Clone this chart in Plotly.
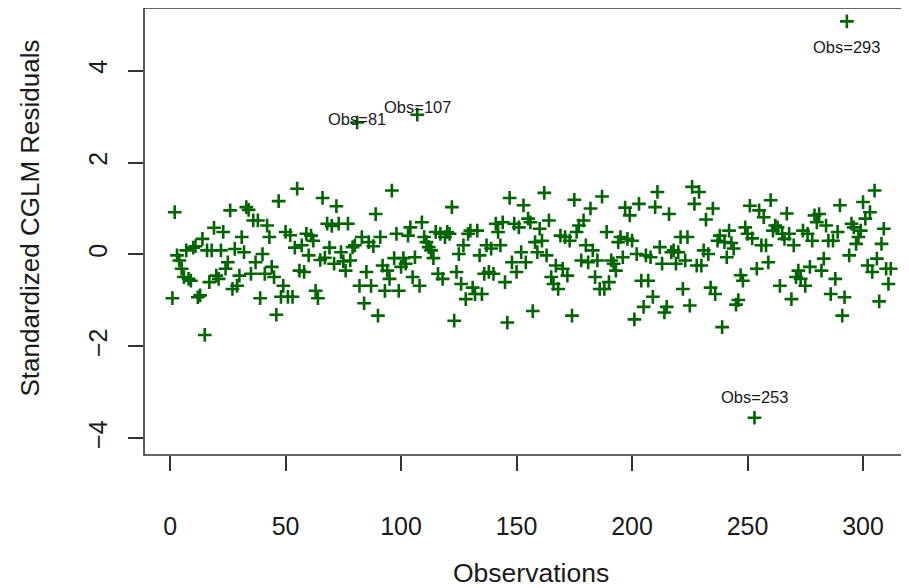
import plotly.graph_objects as go

# Standardized CGLM residuals, observations 1..312
residuals = [
    -0.95, 0.92, -0.02, -0.13, -0.31, -0.49, 0.09, -0.53, -0.57, 0.15,
    0.18, -0.93, -0.89, 0.34, -1.75, 0.09, -0.60, 0.09, 0.58, -0.46,
    -0.53, 0.09, 0.49, -0.31, -0.17, 0.96, -0.75, 0.12, -0.68, -0.46,
    0.38, 0.05, 1.03, 0.97, -0.42, 0.74, -0.17, 0.74, -0.95, 0.01,
    -0.42, 0.63, 0.38, -0.27, -0.49, -1.31, 1.16, -0.92, -0.68, 0.49,
    -0.92, 0.42, -0.92, 0.15, 1.43, -0.35, 0.20, -0.38, 0.45, -0.02,
    0.41, 0.30, -0.79, -0.95, -0.12, 1.23, -0.07, 0.67, 0.15, 0.62,
    -0.20, 1.05, 0.67, 0.05, -0.15, -0.35, 0.67, -0.13, 0.16, 0.20,
    2.87, -0.68, 0.38, -1.06, -0.38, 0.27, -0.68, 0.18, 0.88, -1.33,
    0.38, -0.24, -0.79, -0.35, -0.53, 1.39, -0.08, 0.45, -0.79, -0.27,
    -0.08, -0.20, 0.41, 0.59, -0.49, -0.06, 3.04, -0.68, 0.70, 0.38,
    0.27, 0.16, 0.09, -0.08, 0.49, -0.42, 0.45, -0.53, 0.38, 0.49,
    0.45, 1.03, -1.44, -0.38, 0.01, -0.64, 0.20, -0.97, 0.45, 0.52,
    -0.72, -0.86, 0.52, -0.02, -0.86, -0.42, 0.20, -0.38, 0.13, -0.42,
    0.67, 0.49, 0.20, 0.70, -0.60, -1.48, 1.23, -0.17, 0.67, -0.38,
    0.59, 0.05, 1.07, -0.17, 0.78, 0.70, -1.23, 0.27, 0.05, 0.56,
    0.30, 1.34, -0.02, 0.74, -0.49, -0.64, -0.24, -0.75, 0.41, -0.31,
    0.38, -0.46, 0.30, -1.33, 1.19, 0.49, 0.63, -0.13, 0.74, 0.20,
    -0.17, 1.00, 0.09, -0.49, -0.13, -0.75, 1.26, -0.75, 0.49, -0.60,
    -0.13, -0.20, -0.35, 0.27, 0.38, -0.06, 1.02, 0.34, 0.85, 0.30,
    -1.41, 0.01, 1.10, -0.57, -1.14, -0.02, -0.57, -0.06, -0.92, 1.03,
    1.36, 0.16, -0.20, -1.26, -1.14, 0.88, 0.05, 0.09, -0.20, 0.05,
    0.38, -0.75, -0.13, 0.38, -1.11, 1.47, 1.10, -0.24, 1.36, -0.24,
    0.09, 0.76, 0.01, -0.72, 1.00, -0.86, 0.30, 0.41, -1.58, 0.27,
    -0.06, 0.52, 0.25, 0.13, -1.09, -0.99, -0.45, -0.57, 0.59, 0.45,
    1.06, 0.35, -3.55, -0.31, 0.96, 0.20, 0.81, 0.20, -0.17, 1.18,
    0.52, 0.63, 0.59, -0.68, 0.45, 0.34, 0.89, 0.45, -0.97, 0.20,
    -0.49, -0.35, -0.53, 0.52, -0.68, 0.45, -0.27, 0.30, 0.85, 0.70,
    0.88, -0.35, -0.09, 0.63, 0.30, -0.86, 0.30, -0.53, 0.49, 1.07,
    -1.33, -0.93, 5.07, -0.02, 0.67, 0.59, 0.23, 0.38, 0.52, 1.14,
    0.78, -0.24, 0.92, -0.38, 1.39, -0.09, -1.02, 0.23, 0.56, -0.31,
    -0.64, -0.31,
]
observations = list(range(1, len(residuals) + 1))

# labelled outliers
outlier_obs = [81, 107, 253, 293]
outlier_labels = ["Obs=81", "Obs=107", "Obs=253", "Obs=293"]

x_ticks = [0, 50, 100, 150, 200, 250, 300]
y_ticks = [-4, -2, 0, 2, 4]

FONT = "Liberation Sans, Arial, sans-serif"
TXT = "#1a1a1a"

fig = go.Figure()
fig.add_trace(go.Scatter(
    x=observations, y=residuals, mode="markers",
    marker=dict(symbol="cross-thin", size=9.8, color="#006400",
                line=dict(color="#006400", width=2.6)),
    hoverinfo="x+y", showlegend=False,
))

shifts = {81: 4, 107: 8, 253: 21, 293: -26}
for ob, lab in zip(outlier_obs, outlier_labels):
    fig.add_annotation(
        x=ob, y=residuals[ob - 1], xref="x", yref="y", text=lab,
        showarrow=False, xanchor="center", yanchor="middle",
        yshift=shifts[ob], font=dict(family=FONT, size=16.5, color=TXT),
    )

# axis titles
fig.add_annotation(x=156.3, y=0, xref="x", yref="paper", text="Observations",
                   showarrow=False, xanchor="center", yanchor="middle", yshift=-118,
                   font=dict(family=FONT, size=26.5, color=TXT))
fig.add_annotation(x=0, y=0.5, xref="paper", yref="paper",
                   text="Standardized CGLM Residuals", textangle=-90,
                   showarrow=False, xanchor="center", yanchor="middle",
                   xshift=-115, yshift=13,
                   font=dict(family=FONT, size=26, color=TXT))

# plot box (right side extends past the window like in the reference)
fig.add_shape(type="rect", xref="paper", yref="paper", x0=0, x1=1.1, y0=0, y1=1,
              line=dict(color="#333333", width=1.6), fillcolor="rgba(0,0,0,0)")

# the page body adds an 8px offset, so the figure is 8px smaller on each side
fig.update_layout(
    width=901, height=580,
    margin=dict(l=136, r=0, t=0, b=133),
    paper_bgcolor="white", plot_bgcolor="white",
    font=dict(family=FONT, size=25, color=TXT),
    xaxis=dict(range=[-11.3, 319.9], tickvals=x_ticks, ticks="outside", ticklen=15,
               tickwidth=1.5, tickcolor="#333333", showline=False, showgrid=False,
               zeroline=False, ticklabelstandoff=34,
               tickfont=dict(family=FONT, size=25, color=TXT)),
    yaxis=dict(range=[-4.36, 5.36], tickvals=y_ticks, ticks="outside", ticklen=15,
               tickwidth=1.5, tickcolor="#333333", showline=False, showgrid=False,
               zeroline=False, tickangle=-90, ticklabelstandoff=11,
               tickfont=dict(family=FONT, size=25, color=TXT)),
)

fig.write_html("out.html")
